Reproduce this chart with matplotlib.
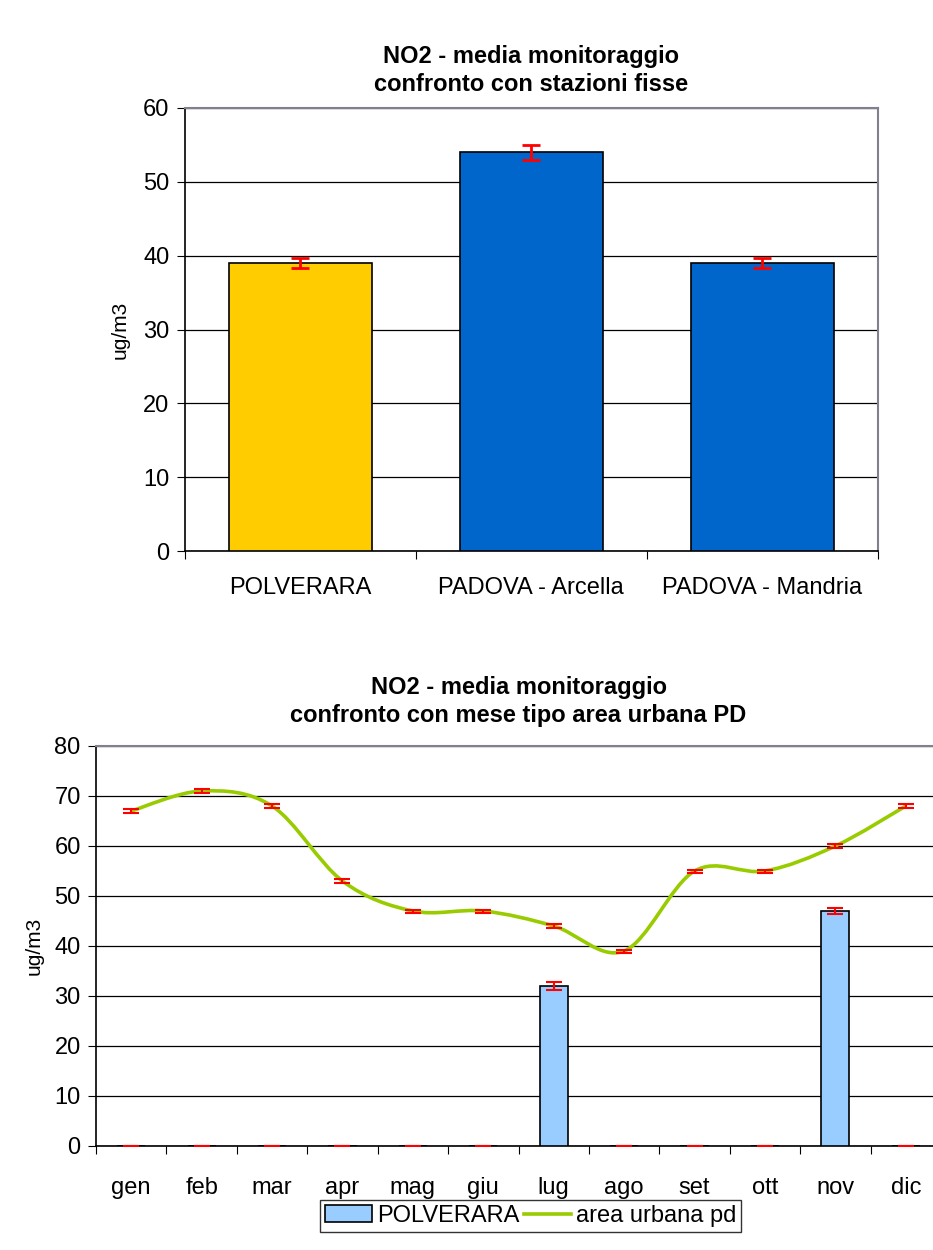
import numpy as np
import matplotlib
matplotlib.use("Agg")
import matplotlib.pyplot as plt
from matplotlib.path import Path
from matplotlib.patches import PathPatch, Patch
from matplotlib.lines import Line2D

plt.rcParams['font.family'] = ['Liberation Sans', 'DejaVu Sans']

# top chart data
stazioni = ['POLVERARA', 'PADOVA - Arcella', 'PADOVA - Mandria']
media_staz = [39, 54, 39]
err_staz = [0.7, 1.0, 0.7]
colori_staz = ['#FFCC00', '#0066CC', '#0066CC']

# bottom chart data
mesi = ['gen', 'feb', 'mar', 'apr', 'mag', 'giu', 'lug', 'ago', 'set', 'ott', 'nov', 'dic']
polverara = [0, 0, 0, 0, 0, 0, 32, 0, 0, 0, 47, 0]
err_polv = [0, 0, 0, 0, 0, 0, 0.8, 0, 0, 0, 0.6, 0]
urbana = [67, 71, 68, 53, 47, 47, 44, 39, 55, 55, 60, 68]
err_urb = [0.4, 0.4, 0.4, 0.4, 0.3, 0.3, 0.4, 0.3, 0.3, 0.3, 0.4, 0.4]

FS = 17  # tick / legend font size

fig = plt.figure(figsize=(9.33, 12.5), dpi=100)

# ---------- top chart ----------
ax1 = fig.add_axes([0.198, 0.5592, 0.743, 0.3544])
x1 = np.arange(len(stazioni))
ax1.bar(x1, media_staz, width=0.62, color=colori_staz, edgecolor='black', linewidth=1.2, zorder=3)
ax1.errorbar(x1, media_staz, yerr=err_staz, fmt='none', ecolor='red', elinewidth=2,
             capsize=6.5, capthick=2, zorder=4)
ax1.set_xlim(-0.5, 2.5)
ax1.set_ylim(0, 60)
ax1.set_yticks(range(0, 61, 10))
ax1.yaxis.grid(True, color='black', linewidth=0.9, zorder=0)
ax1.set_axisbelow(True)
ax1.set_xticks([-0.5, 0.5, 1.5, 2.5])
ax1.set_xticklabels([])
ax1.set_xticks(x1, minor=True)
ax1.set_xticklabels(stazioni, minor=True, fontsize=FS)
ax1.tick_params(axis='x', which='minor', length=0, pad=19)
ax1.tick_params(axis='x', which='major', direction='out', length=6)
ax1.tick_params(axis='y', direction='out', length=6, labelsize=FS, pad=5)
ax1.set_ylabel('ug/m3', fontsize=15, labelpad=10)
for s in ['top', 'right']:
    ax1.spines[s].set_color('#808090')
    ax1.spines[s].set_linewidth(1.5)
ax1.spines['left'].set_linewidth(1.2)
ax1.spines['bottom'].set_linewidth(1.2)
ax1.set_title('NO2 - media monitoraggio\nconfronto con stazioni fisse',
              fontsize=17, fontweight='bold', pad=12, linespacing=1.3)

# ---------- bottom chart ----------
ax2 = fig.add_axes([0.1029, 0.0832, 0.9057, 0.32])
x2 = np.arange(len(mesi))
ax2.bar(x2, polverara, width=0.4, color='#99CCFF', edgecolor='black', linewidth=1.2, zorder=3)
ax2.errorbar(x2, polverara, yerr=err_polv, fmt='none', ecolor='red', elinewidth=1.5,
             capsize=5.5, capthick=1.5, zorder=4)

# smooth line like the spreadsheet "smoothed line" option (bezier through the points)
pts = np.column_stack([x2, urbana]).astype(float)
ext = np.vstack([pts[0], pts, pts[-1]])
verts = [tuple(pts[0])]
codes = [Path.MOVETO]
for i in range(len(pts) - 1):
    p0, p1, p2, p3 = ext[i], ext[i + 1], ext[i + 2], ext[i + 3]
    c1 = p1 + (p2 - p0) / 6.0
    c2 = p2 - (p3 - p1) / 6.0
    verts += [tuple(c1), tuple(c2), tuple(p2)]
    codes += [Path.CURVE4] * 3
ax2.add_patch(PathPatch(Path(verts, codes), facecolor='none', edgecolor='#99CC00',
                        linewidth=2.6, zorder=5))
ax2.errorbar(x2, urbana, yerr=err_urb, fmt='none', ecolor='red', elinewidth=1.5,
             capsize=5.5, capthick=1.5, zorder=6)

ax2.set_xlim(-0.5, 11.5)
ax2.set_ylim(0, 80)
ax2.set_yticks(range(0, 81, 10))
ax2.yaxis.grid(True, color='black', linewidth=0.9, zorder=0)
ax2.set_axisbelow(True)
ax2.set_xticks(np.arange(-0.5, 12, 1))
ax2.set_xticklabels([])
ax2.set_xticks(x2, minor=True)
ax2.set_xticklabels(mesi, minor=True, fontsize=FS)
ax2.tick_params(axis='x', which='minor', length=0, pad=22)
ax2.tick_params(axis='x', which='major', direction='out', length=6)
ax2.tick_params(axis='y', direction='out', length=6, labelsize=FS, pad=5)
ax2.set_ylabel('ug/m3', fontsize=15, labelpad=8)
ax2.spines['top'].set_color('#808090')
ax2.spines['top'].set_linewidth(1.5)
ax2.spines['right'].set_visible(False)
ax2.spines['left'].set_linewidth(1.2)
ax2.spines['bottom'].set_linewidth(1.2)
ax2.set_title('NO2 - media monitoraggio\nconfronto con mese tipo area urbana PD',
              fontsize=17, fontweight='bold', pad=17, linespacing=1.3)

handles = [Patch(facecolor='#99CCFF', edgecolor='black', linewidth=1.2),
           Line2D([0], [0], color='#99CC00', linewidth=2.6)]
leg = fig.legend(handles, ['POLVERARA', 'area urbana pd'], loc='center',
                 bbox_to_anchor=(0.569, 0.0272), ncol=2, fontsize=FS, frameon=True,
                 fancybox=False, edgecolor='black', handlelength=2.0, handletextpad=0.2,
                 columnspacing=0.2, borderpad=0.2)
leg.get_frame().set_linewidth(1.0)

fig.savefig('out.png', dpi=100)
